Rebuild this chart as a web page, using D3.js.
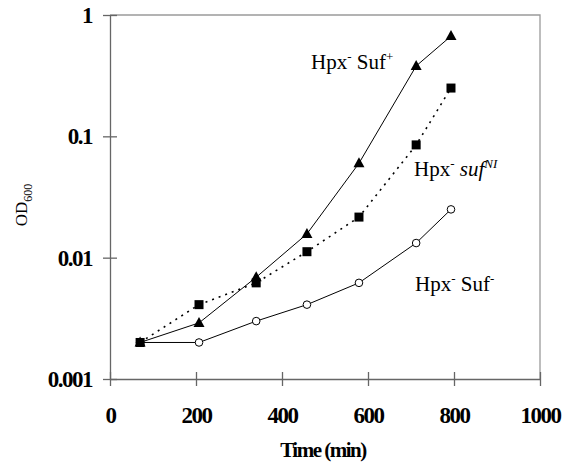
<!DOCTYPE html>
<html>
<head>
<meta charset="utf-8">
<script src="https://cdn.jsdelivr.net/npm/d3@7"></script>
<style>
  body { margin: 0; background: #fff; }
  text { font-family: "Liberation Serif", "Times New Roman", serif; }
</style>
</head>
<body>
<svg id="chart" width="566" height="469"></svg>
<script>
// data
let times = [70, 207, 340, 458, 579, 712, 793];
let sufPlus = [0.002, 0.0029, 0.0069, 0.0157, 0.060, 0.38, 0.67];
let sufNI = [0.002, 0.0041, 0.0062, 0.0112, 0.0216, 0.085, 0.25];
let sufMinus = [0.002, 0.002, 0.0030, 0.0041, 0.0062, 0.0132, 0.025];
let xTicks = [0, 200, 400, 600, 800, 1000];
let yTicks = [0.001, 0.01, 0.1, 1];

function getChartConfig() {
    let margin = { top: 15, right: 26, bottom: 90, left: 110 },
    width = 566 - margin.left - margin.right,
    height = 469 - margin.top - margin.bottom;

    let container = d3.select("#chart")
        .append("g")
        .attr("transform", "translate(" + margin.left + "," + margin.top + ")");

    return { width, height, container, margin }
}

function getScales(config) {
    let { width, height } = config;
    let xScale = d3.scaleLinear().domain([0, 1000]).range([0, width]);
    let yScale = d3.scaleLog().domain([0.001, 1]).range([height, 0]);
    return { xScale, yScale }
}

function styleTicks(axis) {
    axis.attr("font-family", "Liberation Serif");
    axis.selectAll(".tick text")
        .attr("fill", "#000")
        .style("font-size", "23px")
        .style("font-weight", "bold")
        .style("letter-spacing", "-1.5px");
}

function drawAxes(config, scales) {
    let { container, width, height } = config;
    let { xScale, yScale } = scales;

    // frame on top and right
    container.append("path")
        .attr("d", "M0,0H" + width + "V" + height)
        .attr("fill", "none")
        .attr("stroke", "#9a9a9a")
        .attr("stroke-width", 1.3);

    let xAxis = container.append("g")
        .attr("transform", "translate(0," + height + ")")
        .call(d3.axisBottom(xScale).tickValues(xTicks).tickSize(0).tickPadding(28).tickFormat(d3.format("d")));
    xAxis.select(".domain").attr("stroke", "#666").attr("stroke-width", 1.3);
    xAxis.selectAll(".tick").append("line")
        .attr("y1", -7).attr("y2", 7).attr("stroke", "#666").attr("stroke-width", 1.3);
    styleTicks(xAxis);

    let yAxis = container.append("g")
        .call(d3.axisLeft(yScale).tickValues(yTicks).tickSize(0).tickPadding(18).tickFormat(d => String(d)));
    yAxis.select(".domain").attr("stroke", "#666").attr("stroke-width", 1.3);
    yAxis.selectAll(".tick").append("line")
        .attr("x1", -7).attr("x2", 7).attr("stroke", "#666").attr("stroke-width", 1.3);
    styleTicks(yAxis);

    container.append("text")
        .attr("x", width / 2 - 2)
        .attr("y", height + 78)
        .attr("text-anchor", "middle")
        .style("font-size", "21px")
        .style("font-weight", "bold")
        .style("letter-spacing", "-1.5px")
        .text("Time (min)");

    let yLabel = container.append("text")
        .attr("transform", "translate(-83," + (height / 2 + 8) + ") rotate(-90)")
        .attr("text-anchor", "middle")
        .style("font-size", "17px");
    yLabel.append("tspan").text("OD");
    yLabel.append("tspan").attr("dy", 5).style("font-size", "12px").text("600");
}

function drawSeries(config, scales) {
    let { container } = config;
    let { xScale, yScale } = scales;

    let line = d3.line()
        .x(d => xScale(d[0]))
        .y(d => yScale(d[1]));

    let series = [
        { values: sufMinus, dash: null, symbol: "circle" },
        { values: sufNI, dash: "2,5", symbol: "square" },
        { values: sufPlus, dash: null, symbol: "triangle" }
    ];

    series.forEach(s => {
        let pts = times.map((t, i) => [t, s.values[i]]);
        container.append("path")
            .datum(pts)
            .attr("d", line)
            .attr("fill", "none")
            .attr("stroke", "#000")
            .attr("stroke-width", s.dash ? 1.6 : 1)
            .attr("stroke-dasharray", s.dash);

        let g = container.selectAll(null)
            .data(pts)
            .enter()
            .append("g")
            .attr("transform", d => "translate(" + xScale(d[0]) + "," + yScale(d[1]) + ")");

        if (s.symbol === "circle") {
            g.append("circle").attr("r", 3.8)
                .attr("fill", "#fff").attr("stroke", "#000").attr("stroke-width", 1);
        } else if (s.symbol === "square") {
            g.append("rect").attr("x", -4.5).attr("y", -4.5)
                .attr("width", 9).attr("height", 9).attr("fill", "#000");
        } else {
            g.append("path").attr("d", "M0,-6L5.5,4L-5.5,4Z").attr("fill", "#000");
        }
    });
}

function drawLabels(config) {
    let { container, margin } = config;
    let labels = [
        { x: 311, y: 69, parts: [["Hpx", null], ["-", "sup"], [" Suf", null], ["+", "sup"]] },
        { x: 414, y: 176, parts: [["Hpx", null], ["-", "sup"], [" ", null], ["suf", "it"], ["NI", "supit"]] },
        { x: 415, y: 291, parts: [["Hpx", null], ["-", "sup"], [" Suf", null], ["-", "sup"]] }
    ];
    labels.forEach(l => {
        let t = container.append("text")
            .attr("x", l.x - margin.left)
            .attr("y", l.y - margin.top)
            .style("font-size", "21px");
        let raised = false;
        l.parts.forEach(p => {
            let sp = t.append("tspan").text(p[0]);
            let sup = p[1] === "sup" || p[1] === "supit";
            if (sup && !raised) { sp.attr("dy", -8); raised = true; }
            if (!sup && raised) { sp.attr("dy", 8); raised = false; }
            if (sup) sp.style("font-size", "13px");
            if (p[1] === "it" || p[1] === "supit") sp.style("font-style", "italic");
        });
    });
}

let config = getChartConfig();
let scales = getScales(config);
drawAxes(config, scales);
drawSeries(config, scales);
drawLabels(config);
</script>
</body>
</html>
